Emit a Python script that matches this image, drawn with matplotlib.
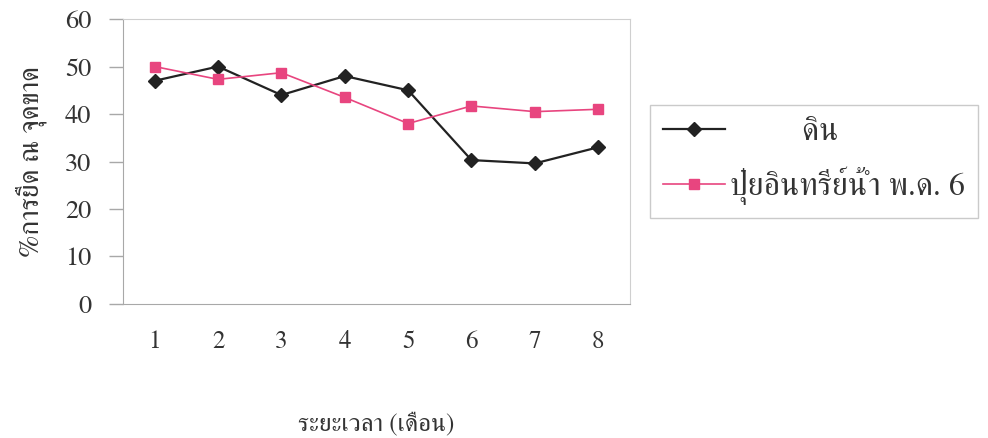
import matplotlib
matplotlib.use("Agg")
import matplotlib.pyplot as plt

# months and % elongation at break for the two treatments
months = [1, 2, 3, 4, 5, 6, 7, 8]
soil = [47, 50, 44, 48, 45, 30.3, 29.6, 33]
fert = [50, 47.3, 48.7, 43.5, 38, 41.7, 40.5, 41]

y_ticks = [0, 10, 20, 30, 40, 50, 60]

plt.rcParams['font.family'] = ['FreeSerif', 'DejaVu Serif']

fig = plt.figure(figsize=(9.88, 4.38), dpi=100)
ax = fig.add_axes([0.1245, 0.306, 0.513, 0.6505])

ax.plot(months, soil, color="#222222", lw=1.6, marker="D", ms=7.5,
        label="         ดิน")
ax.plot(months, fert, color="#e8457f", lw=1.2, marker="s", ms=7.5,
        label="ปุ๋ยอินทรีย์น้ำ พ.ด. 6")

ax.set_xlim(0.5, 8.5)
ax.set_ylim(0, 60)
ax.set_yticks(y_ticks)
ax.set_xticks(months)

for side in ["top", "right"]:
    ax.spines[side].set_color("#cfcfcf")
for side in ["left", "bottom"]:
    ax.spines[side].set_color("#a8a8a8")
ax.tick_params(axis="y", length=10, width=1, color="#a8a8a8",
               labelsize=19, labelcolor="#333333", pad=13)
ax.tick_params(axis="x", length=0, labelsize=18, labelcolor="#333333", pad=19)

ax.set_xlabel("ระยะเวลา (เดือน)", fontsize=18, color="#333333", labelpad=42)
ax.set_ylabel("%การยืด ณ จุดขาด", fontsize=20, color="#333333", labelpad=13)

leg = ax.legend(loc="upper left", bbox_to_anchor=(650 / 988, 1 - 105 / 438),
                bbox_transform=fig.transFigure, fontsize=23, frameon=True,
                fancybox=False, edgecolor="#bdbdbd", handlelength=1.95,
                handletextpad=0.15, borderpad=0.4, labelspacing=0.6,
                borderaxespad=0)
leg.get_frame().set_linewidth(1)
for t in leg.get_texts():
    t.set_color("#333333")

fig.savefig("out.png", dpi=100)
